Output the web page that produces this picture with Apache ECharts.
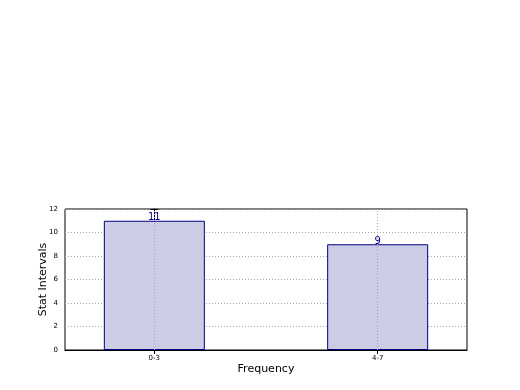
<!DOCTYPE html>
<html><head><meta charset="utf-8">
<script src="https://cdn.jsdelivr.net/npm/echarts@6/dist/echarts.min.js"></script>
<style>html,body{margin:0;padding:0;background:#fff}#c{width:520px;height:390px}</style>
</head><body><div id="c"></div>
<script>
const categories = ['0-3', '4-7'];
const values = [11, 9];
const yTicks = [0, 2, 4, 6, 8, 10, 12];

const chart = echarts.init(document.getElementById('c'), null, {renderer: 'canvas'});
const font = 'DejaVu Sans';
const positions = categories.map((c, i) => i);
const gridLine = {show: true, lineStyle: {color: '#a8a8a8', type: [1, 2], width: 1}};
chart.setOption({
  animation: false,
  backgroundColor: '#fff',
  grid: {left: 65, right: 53, top: 209, bottom: 40, show: true, borderColor: '#000', borderWidth: 1, backgroundColor: 'transparent'},
  xAxis: [{
    type: 'value', min: -0.4, max: 1.4,
    name: 'Frequency', nameLocation: 'middle', nameGap: 14,
    nameTextStyle: {fontFamily: font, fontSize: 11, color: '#000'},
    axisLine: {show: true, lineStyle: {color: '#000'}},
    axisTick: {show: true, inside: true, length: 4, customValues: positions, lineStyle: {color: '#000'}},
    axisLabel: {show: true, customValues: positions, fontFamily: font, fontSize: 7, color: '#000', margin: 5,
      formatter: v => categories[Math.round(v)] ?? ''},
    splitLine: {show: false}
  }, {
    type: 'value', min: -0.4, max: 1.4, position: 'top',
    axisLine: {show: false},
    axisTick: {show: true, inside: true, length: 4, customValues: positions, lineStyle: {color: '#000'}},
    axisLabel: {show: false}, splitLine: {show: false}
  }],
  yAxis: [{
    type: 'value', min: 0, max: 12, interval: 2,
    name: 'Stat Intervals', nameLocation: 'middle', nameGap: 16, nameMoveOverlap: false,
    nameTextStyle: {fontFamily: font, fontSize: 11, color: '#000'},
    axisLine: {show: true, lineStyle: {color: '#000'}},
    axisTick: {show: true, inside: true, length: 4, lineStyle: {color: '#000'}},
    axisLabel: {fontFamily: font, fontSize: 7, color: '#000', margin: 7,
      formatter: v => yTicks.includes(v) ? String(v) : ''},
    splitLine: gridLine
  }, {
    type: 'value', min: 0, max: 12, interval: 2, position: 'right',
    axisLine: {show: false},
    axisTick: {show: true, inside: true, length: 4, lineStyle: {color: '#000'}},
    axisLabel: {show: false}, splitLine: {show: false}
  }],
  series: [{
    type: 'bar',
    data: values.map((v, i) => [positions[i], v]),
    barWidth: 101,
    itemStyle: {color: 'rgb(204,204,229)', borderColor: '#000080', borderWidth: 1},
    label: {show: true, position: 'top', distance: -2, color: '#00008b', fontFamily: font, fontSize: 10},
    markLine: {
      silent: true, symbol: 'none', label: {show: false},
      lineStyle: {color: '#a8a8a8', type: [1, 2], width: 1},
      data: positions.map(p => ({xAxis: p}))
    },
    z: 2
  }]
});
</script></body></html>
